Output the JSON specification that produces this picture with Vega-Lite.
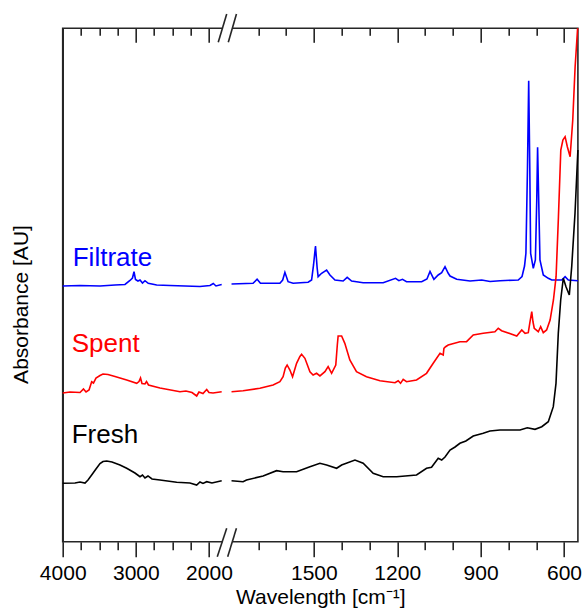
{
  "$schema": "https://vega.github.io/schema/vega-lite/v6.json",
  "width": 515.2,
  "height": 513.4,
  "autosize": {"type": "none"},
  "padding": {"left": 62.7, "top": 28.3, "right": 7.1, "bottom": 70.3},
  "background": "white",
  "config": {
    "view": {"stroke": "#262626", "strokeWidth": 1.6},
    "axis": {
      "labelFont": "Liberation Sans",
      "titleFont": "Liberation Sans",
      "labelFontSize": 21,
      "titleFontSize": 21,
      "titleFontWeight": "normal",
      "labelColor": "#000000",
      "titleColor": "#000000",
      "tickColor": "#262626",
      "tickWidth": 1.6,
      "grid": false,
      "domain": false
    }
  },
  "datasets": {
    "spectra": [
      {"sample":"Filtrate","part":"L","wavenumber":4000,"absorbance":49.81},
      {"sample":"Filtrate","part":"L","wavenumber":3763,"absorbance":49.90},
      {"sample":"Filtrate","part":"L","wavenumber":3490,"absorbance":49.81},
      {"sample":"Filtrate","part":"L","wavenumber":3285,"absorbance":50.00},
      {"sample":"Filtrate","part":"L","wavenumber":3148,"absorbance":50.10},
      {"sample":"Filtrate","part":"L","wavenumber":3080,"absorbance":50.88},
      {"sample":"Filtrate","part":"L","wavenumber":3046,"absorbance":51.36},
      {"sample":"Filtrate","part":"L","wavenumber":3025,"absorbance":52.59},
      {"sample":"Filtrate","part":"L","wavenumber":3005,"absorbance":51.07},
      {"sample":"Filtrate","part":"L","wavenumber":2971,"absorbance":50.78},
      {"sample":"Filtrate","part":"L","wavenumber":2943,"absorbance":50.97},
      {"sample":"Filtrate","part":"L","wavenumber":2909,"absorbance":50.39},
      {"sample":"Filtrate","part":"L","wavenumber":2875,"absorbance":50.84},
      {"sample":"Filtrate","part":"L","wavenumber":2830,"absorbance":50.33},
      {"sample":"Filtrate","part":"L","wavenumber":2715,"absorbance":50.00},
      {"sample":"Filtrate","part":"L","wavenumber":2533,"absorbance":49.90},
      {"sample":"Filtrate","part":"L","wavenumber":2328,"absorbance":49.81},
      {"sample":"Filtrate","part":"L","wavenumber":2123,"absorbance":49.71},
      {"sample":"Filtrate","part":"L","wavenumber":1986,"absorbance":49.90},
      {"sample":"Filtrate","part":"L","wavenumber":1941,"absorbance":50.29},
      {"sample":"Filtrate","part":"L","wavenumber":1904,"absorbance":49.81},
      {"sample":"Filtrate","part":"L","wavenumber":1826,"absorbance":50.10},
      {"sample":"Filtrate","part":"R","wavenumber":1796,"absorbance":50.19},
      {"sample":"Filtrate","part":"R","wavenumber":1718.5,"absorbance":50.33},
      {"sample":"Filtrate","part":"R","wavenumber":1704,"absorbance":51.11},
      {"sample":"Filtrate","part":"R","wavenumber":1692,"absorbance":50.33},
      {"sample":"Filtrate","part":"R","wavenumber":1622,"absorbance":50.33},
      {"sample":"Filtrate","part":"R","wavenumber":1612,"absorbance":50.97},
      {"sample":"Filtrate","part":"R","wavenumber":1604,"absorbance":52.47},
      {"sample":"Filtrate","part":"R","wavenumber":1592.5,"absorbance":50.64},
      {"sample":"Filtrate","part":"R","wavenumber":1574.5,"absorbance":50.33},
      {"sample":"Filtrate","part":"R","wavenumber":1520.5,"absorbance":50.53},
      {"sample":"Filtrate","part":"R","wavenumber":1508,"absorbance":50.97},
      {"sample":"Filtrate","part":"R","wavenumber":1501,"absorbance":53.90},
      {"sample":"Filtrate","part":"R","wavenumber":1494,"absorbance":57.60},
      {"sample":"Filtrate","part":"R","wavenumber":1488,"absorbance":53.31},
      {"sample":"Filtrate","part":"R","wavenumber":1484.5,"absorbance":51.62},
      {"sample":"Filtrate","part":"R","wavenumber":1472,"absorbance":52.28},
      {"sample":"Filtrate","part":"R","wavenumber":1454,"absorbance":52.92},
      {"sample":"Filtrate","part":"R","wavenumber":1442,"absorbance":51.95},
      {"sample":"Filtrate","part":"R","wavenumber":1424,"absorbance":50.97},
      {"sample":"Filtrate","part":"R","wavenumber":1394.5,"absorbance":50.78},
      {"sample":"Filtrate","part":"R","wavenumber":1380,"absorbance":51.50},
      {"sample":"Filtrate","part":"R","wavenumber":1364,"absorbance":50.78},
      {"sample":"Filtrate","part":"R","wavenumber":1322.5,"absorbance":50.45},
      {"sample":"Filtrate","part":"R","wavenumber":1250.5,"absorbance":50.45},
      {"sample":"Filtrate","part":"R","wavenumber":1206,"absorbance":51.30},
      {"sample":"Filtrate","part":"R","wavenumber":1194,"absorbance":50.84},
      {"sample":"Filtrate","part":"R","wavenumber":1181,"absorbance":51.11},
      {"sample":"Filtrate","part":"R","wavenumber":1166.5,"absorbance":50.64},
      {"sample":"Filtrate","part":"R","wavenumber":1112,"absorbance":50.64},
      {"sample":"Filtrate","part":"R","wavenumber":1093,"absorbance":51.17},
      {"sample":"Filtrate","part":"R","wavenumber":1082,"absorbance":52.63},
      {"sample":"Filtrate","part":"R","wavenumber":1068,"absorbance":51.11},
      {"sample":"Filtrate","part":"R","wavenumber":1052.5,"absorbance":51.95},
      {"sample":"Filtrate","part":"R","wavenumber":1040,"absorbance":52.40},
      {"sample":"Filtrate","part":"R","wavenumber":1028,"absorbance":53.56},
      {"sample":"Filtrate","part":"R","wavenumber":1016.5,"absorbance":52.28},
      {"sample":"Filtrate","part":"R","wavenumber":1010,"absorbance":51.75},
      {"sample":"Filtrate","part":"R","wavenumber":986,"absorbance":51.11},
      {"sample":"Filtrate","part":"R","wavenumber":938,"absorbance":50.78},
      {"sample":"Filtrate","part":"R","wavenumber":896,"absorbance":50.97},
      {"sample":"Filtrate","part":"R","wavenumber":866,"absorbance":50.68},
      {"sample":"Filtrate","part":"R","wavenumber":830,"absorbance":50.84},
      {"sample":"Filtrate","part":"R","wavenumber":764.5,"absorbance":50.97},
      {"sample":"Filtrate","part":"R","wavenumber":751,"absorbance":51.65},
      {"sample":"Filtrate","part":"R","wavenumber":742,"absorbance":53.70},
      {"sample":"Filtrate","part":"R","wavenumber":737,"absorbance":56.17},
      {"sample":"Filtrate","part":"R","wavenumber":731.5,"absorbance":72.40},
      {"sample":"Filtrate","part":"R","wavenumber":727,"absorbance":89.79},
      {"sample":"Filtrate","part":"R","wavenumber":723,"absorbance":72.40},
      {"sample":"Filtrate","part":"R","wavenumber":720,"absorbance":56.17},
      {"sample":"Filtrate","part":"R","wavenumber":710.5,"absorbance":53.25},
      {"sample":"Filtrate","part":"R","wavenumber":703,"absorbance":54.87},
      {"sample":"Filtrate","part":"R","wavenumber":698,"absorbance":66.56},
      {"sample":"Filtrate","part":"R","wavenumber":695,"absorbance":76.82},
      {"sample":"Filtrate","part":"R","wavenumber":691,"absorbance":66.56},
      {"sample":"Filtrate","part":"R","wavenumber":686.5,"absorbance":54.87},
      {"sample":"Filtrate","part":"R","wavenumber":674.5,"absorbance":51.95},
      {"sample":"Filtrate","part":"R","wavenumber":656.5,"absorbance":51.30},
      {"sample":"Filtrate","part":"R","wavenumber":644,"absorbance":50.97},
      {"sample":"Filtrate","part":"R","wavenumber":608,"absorbance":50.97},
      {"sample":"Filtrate","part":"R","wavenumber":596,"absorbance":51.62},
      {"sample":"Filtrate","part":"R","wavenumber":584.5,"absorbance":50.97},
      {"sample":"Filtrate","part":"R","wavenumber":550,"absorbance":50.84},
      {"sample":"Spent","part":"L","wavenumber":4000,"absorbance":28.96},
      {"sample":"Spent","part":"L","wavenumber":3900,"absorbance":29.16},
      {"sample":"Spent","part":"L","wavenumber":3763,"absorbance":29.06},
      {"sample":"Spent","part":"L","wavenumber":3716,"absorbance":29.74},
      {"sample":"Spent","part":"L","wavenumber":3681,"absorbance":29.16},
      {"sample":"Spent","part":"L","wavenumber":3640,"absorbance":29.55},
      {"sample":"Spent","part":"L","wavenumber":3604,"absorbance":31.16},
      {"sample":"Spent","part":"L","wavenumber":3579,"absorbance":30.91},
      {"sample":"Spent","part":"L","wavenumber":3545,"absorbance":31.88},
      {"sample":"Spent","part":"L","wavenumber":3490,"absorbance":32.37},
      {"sample":"Spent","part":"L","wavenumber":3449,"absorbance":32.66},
      {"sample":"Spent","part":"L","wavenumber":3381,"absorbance":32.57},
      {"sample":"Spent","part":"L","wavenumber":3285,"absorbance":32.18},
      {"sample":"Spent","part":"L","wavenumber":3125,"absorbance":31.50},
      {"sample":"Spent","part":"L","wavenumber":2988,"absorbance":30.85},
      {"sample":"Spent","part":"L","wavenumber":2957,"absorbance":31.20},
      {"sample":"Spent","part":"L","wavenumber":2936,"absorbance":31.88},
      {"sample":"Spent","part":"L","wavenumber":2916,"absorbance":30.81},
      {"sample":"Spent","part":"L","wavenumber":2875,"absorbance":30.72},
      {"sample":"Spent","part":"L","wavenumber":2854,"absorbance":31.20},
      {"sample":"Spent","part":"L","wavenumber":2827,"absorbance":30.52},
      {"sample":"Spent","part":"L","wavenumber":2670,"absorbance":29.94},
      {"sample":"Spent","part":"L","wavenumber":2396,"absorbance":29.22},
      {"sample":"Spent","part":"L","wavenumber":2315,"absorbance":29.35},
      {"sample":"Spent","part":"L","wavenumber":2232,"absorbance":29.06},
      {"sample":"Spent","part":"L","wavenumber":2168,"absorbance":28.38},
      {"sample":"Spent","part":"L","wavenumber":2137,"absorbance":29.16},
      {"sample":"Spent","part":"L","wavenumber":2082,"absorbance":28.87},
      {"sample":"Spent","part":"L","wavenumber":2031,"absorbance":29.65},
      {"sample":"Spent","part":"L","wavenumber":2000,"absorbance":29.06},
      {"sample":"Spent","part":"L","wavenumber":1945,"absorbance":28.96},
      {"sample":"Spent","part":"L","wavenumber":1826,"absorbance":29.22},
      {"sample":"Spent","part":"R","wavenumber":1796,"absorbance":29.22},
      {"sample":"Spent","part":"R","wavenumber":1754.5,"absorbance":29.41},
      {"sample":"Spent","part":"R","wavenumber":1694,"absorbance":29.88},
      {"sample":"Spent","part":"R","wavenumber":1646.5,"absorbance":30.52},
      {"sample":"Spent","part":"R","wavenumber":1622,"absorbance":31.16},
      {"sample":"Spent","part":"R","wavenumber":1610.5,"absorbance":32.14},
      {"sample":"Spent","part":"R","wavenumber":1602.5,"absorbance":33.83},
      {"sample":"Spent","part":"R","wavenumber":1596,"absorbance":34.42},
      {"sample":"Spent","part":"R","wavenumber":1586,"absorbance":33.44},
      {"sample":"Spent","part":"R","wavenumber":1576.5,"absorbance":32.14},
      {"sample":"Spent","part":"R","wavenumber":1562,"absorbance":34.75},
      {"sample":"Spent","part":"R","wavenumber":1550,"absorbance":36.07},
      {"sample":"Spent","part":"R","wavenumber":1544,"absorbance":36.50},
      {"sample":"Spent","part":"R","wavenumber":1532,"absorbance":35.72},
      {"sample":"Spent","part":"R","wavenumber":1514,"absorbance":33.11},
      {"sample":"Spent","part":"R","wavenumber":1502.5,"absorbance":32.47},
      {"sample":"Spent","part":"R","wavenumber":1490,"absorbance":32.80},
      {"sample":"Spent","part":"R","wavenumber":1478,"absorbance":32.28},
      {"sample":"Spent","part":"R","wavenumber":1460,"absorbance":33.11},
      {"sample":"Spent","part":"R","wavenumber":1448.5,"absorbance":34.09},
      {"sample":"Spent","part":"R","wavenumber":1436,"absorbance":32.80},
      {"sample":"Spent","part":"R","wavenumber":1421,"absorbance":34.42},
      {"sample":"Spent","part":"R","wavenumber":1415.5,"absorbance":38.31},
      {"sample":"Spent","part":"R","wavenumber":1412.5,"absorbance":40.07},
      {"sample":"Spent","part":"R","wavenumber":1400,"absorbance":40.07},
      {"sample":"Spent","part":"R","wavenumber":1388.5,"absorbance":38.64},
      {"sample":"Spent","part":"R","wavenumber":1370.5,"absorbance":35.39},
      {"sample":"Spent","part":"R","wavenumber":1346.5,"absorbance":33.11},
      {"sample":"Spent","part":"R","wavenumber":1310.5,"absorbance":32.14},
      {"sample":"Spent","part":"R","wavenumber":1262,"absorbance":31.36},
      {"sample":"Spent","part":"R","wavenumber":1208,"absorbance":30.97},
      {"sample":"Spent","part":"R","wavenumber":1196.5,"absorbance":31.36},
      {"sample":"Spent","part":"R","wavenumber":1188,"absorbance":30.85},
      {"sample":"Spent","part":"R","wavenumber":1178.5,"absorbance":31.63},
      {"sample":"Spent","part":"R","wavenumber":1166.5,"absorbance":31.16},
      {"sample":"Spent","part":"R","wavenumber":1130.5,"absorbance":31.50},
      {"sample":"Spent","part":"R","wavenumber":1094.5,"absorbance":32.80},
      {"sample":"Spent","part":"R","wavenumber":1070.5,"absorbance":34.75},
      {"sample":"Spent","part":"R","wavenumber":1046,"absorbance":36.70},
      {"sample":"Spent","part":"R","wavenumber":1034.5,"absorbance":36.37},
      {"sample":"Spent","part":"R","wavenumber":1032,"absorbance":37.67},
      {"sample":"Spent","part":"R","wavenumber":1026,"absorbance":37.98},
      {"sample":"Spent","part":"R","wavenumber":1016.5,"absorbance":38.31},
      {"sample":"Spent","part":"R","wavenumber":974.5,"absorbance":38.96},
      {"sample":"Spent","part":"R","wavenumber":950.5,"absorbance":38.96},
      {"sample":"Spent","part":"R","wavenumber":926.5,"absorbance":40.26},
      {"sample":"Spent","part":"R","wavenumber":890.5,"absorbance":40.59},
      {"sample":"Spent","part":"R","wavenumber":848.5,"absorbance":40.90},
      {"sample":"Spent","part":"R","wavenumber":836.5,"absorbance":41.57},
      {"sample":"Spent","part":"R","wavenumber":824.5,"absorbance":41.10},
      {"sample":"Spent","part":"R","wavenumber":770,"absorbance":40.07},
      {"sample":"Spent","part":"R","wavenumber":752,"absorbance":41.24},
      {"sample":"Spent","part":"R","wavenumber":740,"absorbance":40.59},
      {"sample":"Spent","part":"R","wavenumber":728.5,"absorbance":40.71},
      {"sample":"Spent","part":"R","wavenumber":722.5,"absorbance":42.79},
      {"sample":"Spent","part":"R","wavenumber":716,"absorbance":44.80},
      {"sample":"Spent","part":"R","wavenumber":711.5,"absorbance":42.79},
      {"sample":"Spent","part":"R","wavenumber":707,"absorbance":41.57},
      {"sample":"Spent","part":"R","wavenumber":692.5,"absorbance":40.90},
      {"sample":"Spent","part":"R","wavenumber":684,"absorbance":41.88},
      {"sample":"Spent","part":"R","wavenumber":674.5,"absorbance":40.71},
      {"sample":"Spent","part":"R","wavenumber":662.5,"absorbance":41.24},
      {"sample":"Spent","part":"R","wavenumber":650,"absorbance":43.18},
      {"sample":"Spent","part":"R","wavenumber":638,"absorbance":47.08},
      {"sample":"Spent","part":"R","wavenumber":628.5,"absorbance":51.62},
      {"sample":"Spent","part":"R","wavenumber":620,"absorbance":63.30},
      {"sample":"Spent","part":"R","wavenumber":611.5,"absorbance":76.30},
      {"sample":"Spent","part":"R","wavenumber":604,"absorbance":78.24},
      {"sample":"Spent","part":"R","wavenumber":596,"absorbance":78.89},
      {"sample":"Spent","part":"R","wavenumber":588,"absorbance":76.94},
      {"sample":"Spent","part":"R","wavenumber":578,"absorbance":74.99},
      {"sample":"Spent","part":"R","wavenumber":568.5,"absorbance":82.14},
      {"sample":"Spent","part":"R","wavenumber":560,"absorbance":92.52},
      {"sample":"Spent","part":"R","wavenumber":551,"absorbance":100.0},
      {"sample":"Fresh","part":"L","wavenumber":4000,"absorbance":11.38},
      {"sample":"Fresh","part":"L","wavenumber":3832,"absorbance":11.43},
      {"sample":"Fresh","part":"L","wavenumber":3763,"absorbance":11.63},
      {"sample":"Fresh","part":"L","wavenumber":3695,"absorbance":11.43},
      {"sample":"Fresh","part":"L","wavenumber":3654,"absorbance":12.02},
      {"sample":"Fresh","part":"L","wavenumber":3604,"absorbance":12.99},
      {"sample":"Fresh","part":"L","wavenumber":3545,"absorbance":14.16},
      {"sample":"Fresh","part":"L","wavenumber":3490,"absorbance":15.23},
      {"sample":"Fresh","part":"L","wavenumber":3449,"absorbance":15.62},
      {"sample":"Fresh","part":"L","wavenumber":3398,"absorbance":15.72},
      {"sample":"Fresh","part":"L","wavenumber":3326,"absorbance":15.52},
      {"sample":"Fresh","part":"L","wavenumber":3217,"absorbance":14.94},
      {"sample":"Fresh","part":"L","wavenumber":3125,"absorbance":14.30},
      {"sample":"Fresh","part":"L","wavenumber":3012,"absorbance":13.38},
      {"sample":"Fresh","part":"L","wavenumber":2943,"absorbance":12.66},
      {"sample":"Fresh","part":"L","wavenumber":2909,"absorbance":12.99},
      {"sample":"Fresh","part":"L","wavenumber":2875,"absorbance":12.41},
      {"sample":"Fresh","part":"L","wavenumber":2834,"absorbance":12.80},
      {"sample":"Fresh","part":"L","wavenumber":2779,"absorbance":12.21},
      {"sample":"Fresh","part":"L","wavenumber":2670,"absorbance":12.02},
      {"sample":"Fresh","part":"L","wavenumber":2442,"absorbance":11.57},
      {"sample":"Fresh","part":"L","wavenumber":2260,"absorbance":11.43},
      {"sample":"Fresh","part":"L","wavenumber":2168,"absorbance":11.04},
      {"sample":"Fresh","part":"L","wavenumber":2123,"absorbance":11.63},
      {"sample":"Fresh","part":"L","wavenumber":2082,"absorbance":11.34},
      {"sample":"Fresh","part":"L","wavenumber":2031,"absorbance":11.69},
      {"sample":"Fresh","part":"L","wavenumber":1959,"absorbance":11.43},
      {"sample":"Fresh","part":"L","wavenumber":1826,"absorbance":11.88},
      {"sample":"Fresh","part":"R","wavenumber":1796,"absorbance":11.88},
      {"sample":"Fresh","part":"R","wavenumber":1754.5,"absorbance":11.69},
      {"sample":"Fresh","part":"R","wavenumber":1742,"absorbance":12.02},
      {"sample":"Fresh","part":"R","wavenumber":1682.5,"absorbance":12.80},
      {"sample":"Fresh","part":"R","wavenumber":1634,"absorbance":13.83},
      {"sample":"Fresh","part":"R","wavenumber":1610.5,"absorbance":13.63},
      {"sample":"Fresh","part":"R","wavenumber":1562,"absorbance":13.63},
      {"sample":"Fresh","part":"R","wavenumber":1514,"absorbance":14.61},
      {"sample":"Fresh","part":"R","wavenumber":1478,"absorbance":15.27},
      {"sample":"Fresh","part":"R","wavenumber":1454,"absorbance":14.94},
      {"sample":"Fresh","part":"R","wavenumber":1418,"absorbance":14.30},
      {"sample":"Fresh","part":"R","wavenumber":1400,"absorbance":14.94},
      {"sample":"Fresh","part":"R","wavenumber":1352,"absorbance":15.91},
      {"sample":"Fresh","part":"R","wavenumber":1322.5,"absorbance":15.27},
      {"sample":"Fresh","part":"R","wavenumber":1286.5,"absorbance":13.32},
      {"sample":"Fresh","part":"R","wavenumber":1250.5,"absorbance":12.66},
      {"sample":"Fresh","part":"R","wavenumber":1202,"absorbance":12.66},
      {"sample":"Fresh","part":"R","wavenumber":1130.5,"absorbance":12.99},
      {"sample":"Fresh","part":"R","wavenumber":1094.5,"absorbance":14.30},
      {"sample":"Fresh","part":"R","wavenumber":1076.5,"absorbance":14.49},
      {"sample":"Fresh","part":"R","wavenumber":1052.5,"absorbance":16.24},
      {"sample":"Fresh","part":"R","wavenumber":1040,"absorbance":15.91},
      {"sample":"Fresh","part":"R","wavenumber":1028,"absorbance":16.50},
      {"sample":"Fresh","part":"R","wavenumber":1010,"absorbance":17.86},
      {"sample":"Fresh","part":"R","wavenumber":992,"absorbance":18.45},
      {"sample":"Fresh","part":"R","wavenumber":974.4,"absorbance":19.17},
      {"sample":"Fresh","part":"R","wavenumber":953,"absorbance":19.61},
      {"sample":"Fresh","part":"R","wavenumber":926.5,"absorbance":20.59},
      {"sample":"Fresh","part":"R","wavenumber":890.5,"absorbance":21.11},
      {"sample":"Fresh","part":"R","wavenumber":866.4,"absorbance":21.56},
      {"sample":"Fresh","part":"R","wavenumber":830.4,"absorbance":21.76},
      {"sample":"Fresh","part":"R","wavenumber":758.4,"absorbance":21.76},
      {"sample":"Fresh","part":"R","wavenumber":732,"absorbance":22.20},
      {"sample":"Fresh","part":"R","wavenumber":704.4,"absorbance":21.89},
      {"sample":"Fresh","part":"R","wavenumber":680,"absorbance":22.40},
      {"sample":"Fresh","part":"R","wavenumber":656.5,"absorbance":23.37},
      {"sample":"Fresh","part":"R","wavenumber":638.5,"absorbance":26.30},
      {"sample":"Fresh","part":"R","wavenumber":628.8,"absorbance":30.85},
      {"sample":"Fresh","part":"R","wavenumber":620.5,"absorbance":40.59},
      {"sample":"Fresh","part":"R","wavenumber":611.9,"absorbance":47.08},
      {"sample":"Fresh","part":"R","wavenumber":602.5,"absorbance":51.31},
      {"sample":"Fresh","part":"R","wavenumber":592.8,"absorbance":49.67},
      {"sample":"Fresh","part":"R","wavenumber":580.9,"absorbance":48.05},
      {"sample":"Fresh","part":"R","wavenumber":572.3,"absorbance":53.56},
      {"sample":"Fresh","part":"R","wavenumber":560.4,"absorbance":63.97},
      {"sample":"Fresh","part":"R","wavenumber":550,"absorbance":76.30}
    ],
    "labels": [
      {"sample":"Filtrate","wavenumber":3863,"absorbance":53.7},
      {"sample":"Spent","wavenumber":3877,"absorbance":37.0},
      {"sample":"Fresh","wavenumber":3877,"absorbance":19.17}
    ],
    "gapcover": [
      {"wavenumber":1815.4,"wavenumber2":1793.4,"absorbance":100},
      {"wavenumber":1815.4,"wavenumber2":1793.4,"absorbance":0}
    ],
    "breaks": [
      {"wavenumber":1873,"wavenumber2":1799.563,"absorbance":97.27,"absorbance2":102.79},
      {"wavenumber":1799.338,"wavenumber2":1778.3,"absorbance":97.27,"absorbance2":102.79},
      {"wavenumber":1886.5,"wavenumber2":1799.563,"absorbance":-2.92,"absorbance2":2.61},
      {"wavenumber":1799.423,"wavenumber2":1778.3,"absorbance":-2.92,"absorbance2":2.61}
    ]
  },
  "layer": [
    {
      "data": {"name": "spectra"},
      "mark": {"type": "line", "strokeWidth": 1.6},
      "encoding": {
        "x": {
          "field": "wavenumber",
          "type": "quantitative",
          "scale": {"type": "linear", "domain": [4000, 1800, 1799, 550], "range": [0, 160.9, 168, 515.2], "nice": false, "zero": false},
          "axis": {
            "orient": "bottom",
            "values": [4000, 3000, 2000, 1500, 1200, 900, 600],
            "format": "d",
            "tickSize": 15,
            "labelPadding": 6,
            "labelFlush": false,
            "labelOverlap": false,
            "title": "Wavelength [cm⁻¹]",
            "titlePadding": 3
          }
        },
        "y": {
          "field": "absorbance",
          "type": "quantitative",
          "scale": {"domain": [0, 100], "nice": false, "zero": false},
          "axis": {
            "orient": "left",
            "title": "Absorbance [AU]",
            "labels": false,
            "ticks": false,
            "domain": true,
            "domainColor": "#262626",
            "domainWidth": 1.6,
            "titleX": -31,
            "titleY": 275.7,
            "titleAngle": 270,
            "titleAlign": "center",
            "titleBaseline": "bottom"
          }
        },
        "color": {
          "field": "sample",
          "type": "nominal",
          "scale": {"domain": ["Filtrate", "Spent", "Fresh"], "range": ["#0000ff", "#ff0000", "#000000"]},
          "legend": null
        },
        "detail": {"field": "part"}
      }
    },
    {
      "mark": {"type": "rule", "strokeOpacity": 0},
      "encoding": {
        "x": {
          "datum": 4000,
          "type": "quantitative",
          "axis": {"orient": "bottom", "values": [3750, 3500, 3250, 2750, 2500, 2250, 1700, 1600, 1400, 1300, 1100, 1000, 800, 700], "tickSize": 8, "labels": false, "title": null}
        }
      }
    },
    {
      "mark": {"type": "rule", "strokeOpacity": 0},
      "encoding": {
        "x": {
          "datum": 4000,
          "type": "quantitative",
          "axis": {"orient": "top", "values": [4000, 3000, 2000, 1500, 1200, 900, 600], "tickSize": 14, "offset": -14, "labels": false, "title": null}
        }
      }
    },
    {
      "mark": {"type": "rule", "strokeOpacity": 0},
      "encoding": {
        "x": {
          "datum": 4000,
          "type": "quantitative",
          "axis": {"orient": "top", "values": [3750, 3500, 3250, 2750, 2500, 2250, 1700, 1600, 1400, 1300, 1100, 1000, 800, 700], "tickSize": 7, "offset": -7, "labels": false, "title": null}
        }
      }
    },
    {
      "data": {"name": "gapcover"},
      "mark": {"type": "rule", "stroke": "white", "strokeWidth": 4},
      "encoding": {
        "x": {"field": "wavenumber", "type": "quantitative", "axis": null},
        "x2": {"field": "wavenumber2"},
        "y": {"field": "absorbance", "type": "quantitative"}
      }
    },
    {
      "data": {"name": "breaks"},
      "mark": {"type": "rule", "stroke": "#262626", "strokeWidth": 1.6},
      "encoding": {
        "x": {"field": "wavenumber", "type": "quantitative", "axis": null},
        "x2": {"field": "wavenumber2"},
        "y": {"field": "absorbance", "type": "quantitative"},
        "y2": {"field": "absorbance2"}
      }
    },
    {
      "data": {"name": "labels"},
      "mark": {"type": "text", "font": "Liberation Sans", "fontSize": 26, "align": "left", "baseline": "alphabetic"},
      "encoding": {
        "x": {"field": "wavenumber", "type": "quantitative", "axis": null},
        "y": {"field": "absorbance", "type": "quantitative"},
        "text": {"field": "sample"},
        "color": {"field": "sample", "type": "nominal", "legend": null}
      }
    }
  ],
  "resolve": {"axis": {"x": "independent"}}
}
